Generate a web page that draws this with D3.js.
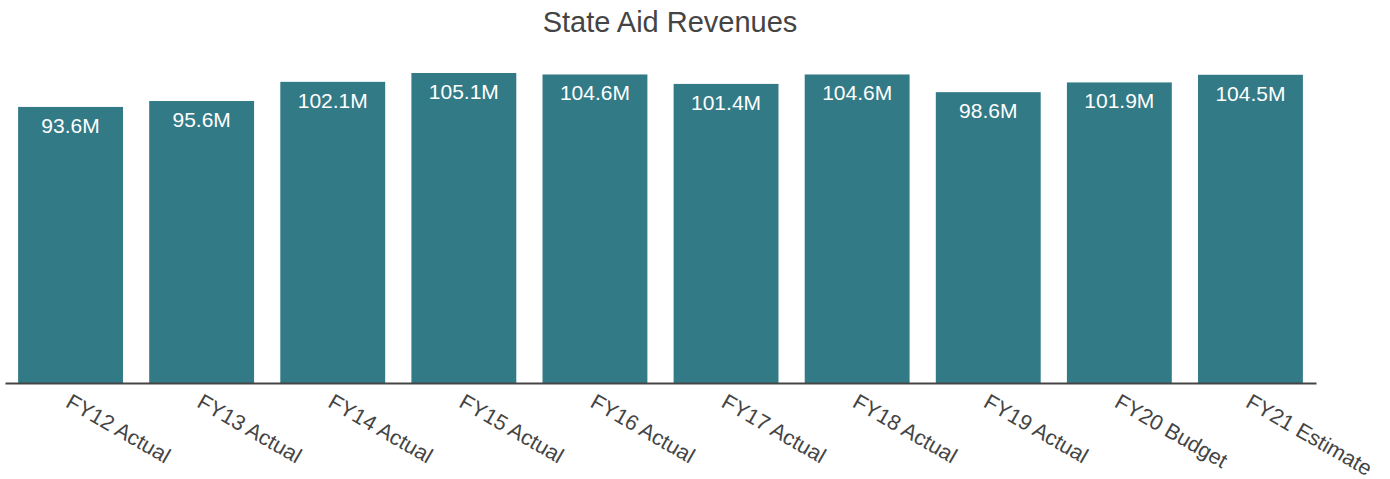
<!DOCTYPE html>
<html>
<head>
<meta charset="utf-8">
<script src="https://cdn.jsdelivr.net/npm/d3@7"></script>
<style>
  html, body { margin: 0; padding: 0; background: #fff; }
  svg { display: block; font-family: "Liberation Sans", Arial, sans-serif; }
</style>
</head>
<body>
<svg id="chart" width="1390" height="479"></svg>
<script>
// Fiscal year categories and state aid revenue (millions of dollars)
const categories = ["FY12 Actual", "FY13 Actual", "FY14 Actual", "FY15 Actual", "FY16 Actual",
                    "FY17 Actual", "FY18 Actual", "FY19 Actual", "FY20 Budget", "FY21 Estimate"];
const revenues = [93.6, 95.6, 102.1, 105.1, 104.6, 101.4, 104.6, 98.6, 101.9, 104.5];
const chartTitle = "State Aid Revenues";

const svg = d3.select("#chart");
const baseline = 383;

const x = d3.scaleBand()
  .domain(categories)
  .range([5, 1316])
  .paddingInner(0.2)
  .paddingOuter(0.1);

const y = d3.scaleLinear()
  .domain([0, d3.max(revenues)])
  .range([baseline, 73]);

const data = categories.map((c, i) => ({ cat: c, val: revenues[i] }));

// Title
svg.append("text")
  .attr("x", 670)
  .attr("y", 32)
  .attr("text-anchor", "middle")
  .attr("font-size", 29)
  .attr("fill", "#444")
  .text(chartTitle);

// Bars
svg.append("g").selectAll("rect")
  .data(data)
  .join("rect")
  .attr("x", d => x(d.cat))
  .attr("y", d => y(d.val))
  .attr("width", x.bandwidth())
  .attr("height", d => baseline - y(d.val))
  .attr("fill", "#327a86");

// Value labels inside bar tops
svg.append("g").selectAll("text")
  .data(data)
  .join("text")
  .attr("x", d => x(d.cat) + x.bandwidth() / 2)
  .attr("y", d => y(d.val) + 26)
  .attr("text-anchor", "middle")
  .attr("font-size", 21)
  .attr("fill", "#fff")
  .text(d => d.val.toFixed(1) + "M");

// X axis
const xAxis = svg.append("g")
  .attr("transform", `translate(0,${baseline})`)
  .call(d3.axisBottom(x).tickSize(0).tickPadding(0));

xAxis.select(".domain")
  .attr("stroke", "#444")
  .attr("stroke-width", 2);

xAxis.selectAll(".tick text")
  .attr("font-family", "Liberation Sans, Arial, sans-serif")
  .attr("font-size", 21.5)
  .attr("fill", "#444")
  .attr("text-anchor", "start")
  .attr("dy", null)
  .attr("y", 0)
  .attr("transform", "translate(-6,23) rotate(30)");
</script>
</body>
</html>
